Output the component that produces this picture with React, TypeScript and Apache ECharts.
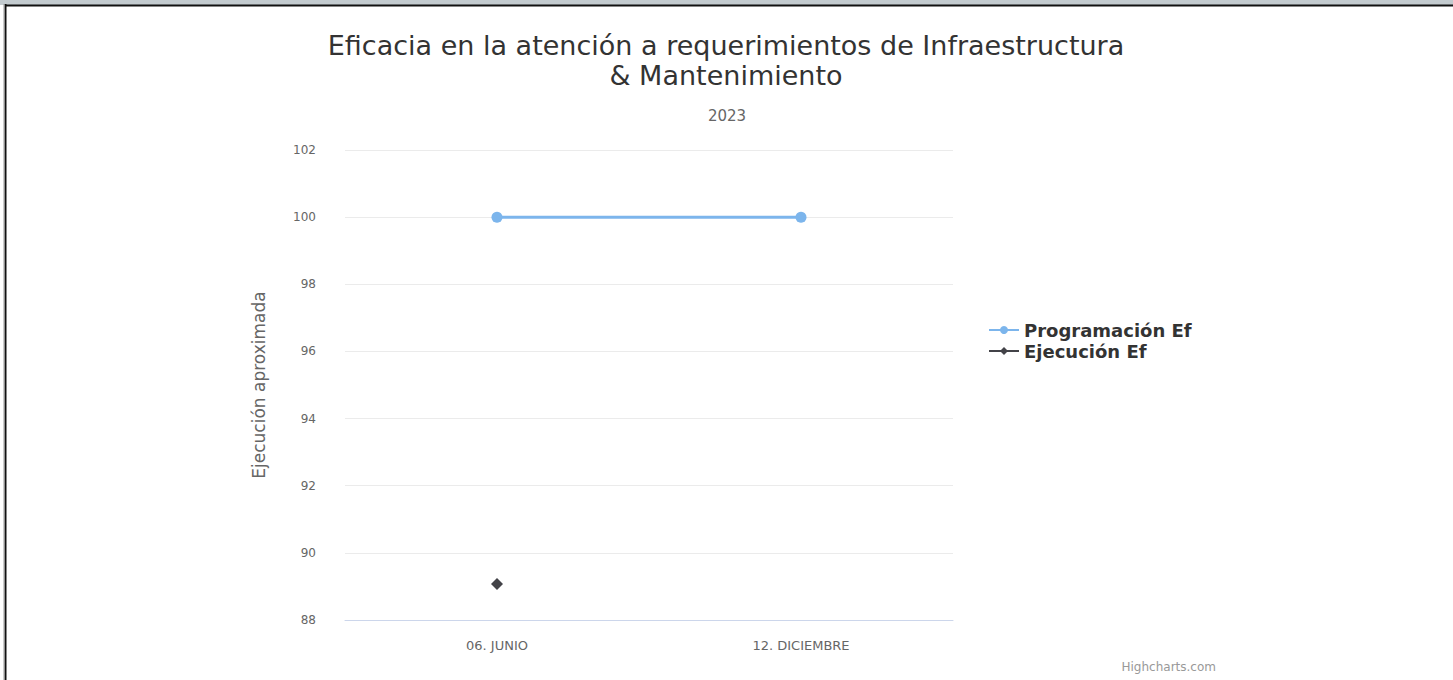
import React, { useEffect, useRef } from "react";
import * as echarts from "echarts";

const categories = ["06. JUNIO", "12. DICIEMBRE"];
const programacion = [100, 100];
const ejecucion: (number | null)[] = [89.07, null];
const titleLines = ["Eficacia en la atención a requerimientos de Infraestructura", "& Mantenimiento"];
const subtitleText = "2023";
const yAxisName = "Ejecución aproximada";
const seriesNames = ["Programación Ef", "Ejecución Ef"];

export default function App() {
  const ref = useRef<HTMLDivElement>(null);
  useEffect(() => {
    if (!ref.current) return;
    const chart = echarts.init(ref.current, null, { renderer: "svg" });
    chart.setOption({
      animation: false,
      backgroundColor: "#ffffff",
      legend: {
        orient: "vertical",
        left: 983,
        top: 316,
        itemWidth: 30,
        itemHeight: 10,
        itemGap: 3,
        textStyle: {
          fontFamily: "DejaVu Sans",
          fontSize: 18,
          fontWeight: "bold",
          color: "#333333",
        },
        data: seriesNames,
      },
      grid: { left: 345, right: 500, top: 150, bottom: 60 },
      xAxis: {
        type: "category",
        data: categories,
        boundaryGap: true,
        axisLine: { lineStyle: { color: "#ccd6eb", width: 1 } },
        axisTick: { show: false },
        axisLabel: {
          fontFamily: "DejaVu Sans",
          fontSize: 13,
          color: "#666666",
          margin: 19,
        },
      },
      yAxis: {
        type: "value",
        min: 88,
        max: 102,
        interval: 2,
        name: yAxisName,
        nameLocation: "middle",
        nameGap: 78,
        nameTextStyle: { fontFamily: "DejaVu Sans", fontSize: 17, color: "#666666" },
        axisLine: { show: false },
        axisTick: { show: false },
        axisLabel: {
          fontFamily: "DejaVu Sans",
          fontSize: 12,
          color: "#666666",
          margin: 29,
        },
        splitLine: { lineStyle: { color: "#ebebeb", width: 1 } },
      },
      series: [
        {
          name: seriesNames[0],
          type: "line",
          data: programacion,
          color: "#7cb5ec",
          symbol: "circle",
          symbolSize: 11,
          lineStyle: { width: 3, color: "#7cb5ec" },
          itemStyle: { color: "#7cb5ec" },
        },
        {
          name: seriesNames[1],
          type: "line",
          data: ejecucion,
          color: "#434348",
          symbol: "diamond",
          symbolSize: 12,
          lineStyle: { width: 3, color: "#434348" },
          itemStyle: { color: "#434348" },
        },
      ],
      graphic: [
        { type: "rect", shape: { x: 0, y: 0, width: 1453, height: 5 }, style: { fill: "#c3cbcf" } },
        { type: "line", shape: { x1: 5, y1: 5.5, x2: 1453, y2: 5.5 }, style: { stroke: "#111111", lineWidth: 2 } },
        { type: "line", shape: { x1: 5.5, y1: 4, x2: 5.5, y2: 680 }, style: { stroke: "#111111", lineWidth: 2 } },
        { type: "line", shape: { x1: 4, y1: 4, x2: 4, y2: 680 }, style: { stroke: "#999999", lineWidth: 1 } },
        {
          type: "text",
          x: 726,
          y: 45,
          style: {
            text: titleLines[0],
            fontFamily: "DejaVu Sans",
            fontSize: 27,
            fill: "#333333",
            textAlign: "center",
            textVerticalAlign: "middle",
          },
        },
        {
          type: "text",
          x: 726,
          y: 75,
          style: {
            text: titleLines[1],
            fontFamily: "DejaVu Sans",
            fontSize: 27,
            fill: "#333333",
            textAlign: "center",
            textVerticalAlign: "middle",
          },
        },
        {
          type: "text",
          x: 727,
          y: 116,
          style: {
            text: subtitleText,
            fontFamily: "DejaVu Sans",
            fontSize: 15,
            fill: "#666666",
            textAlign: "center",
            textVerticalAlign: "middle",
          },
        },
        {
          type: "text",
          x: 1216,
          y: 667,
          style: {
            text: "Highcharts.com",
            fontFamily: "DejaVu Sans",
            fontSize: 12,
            fill: "#999999",
            textAlign: "right",
            textVerticalAlign: "middle",
          },
        },
      ],
    });
    return () => chart.dispose();
  }, []);
  return (
    <div
      ref={ref}
      style={{ position: "absolute", left: 0, top: 0, width: 1453, height: 680 }}
    />
  );
}
